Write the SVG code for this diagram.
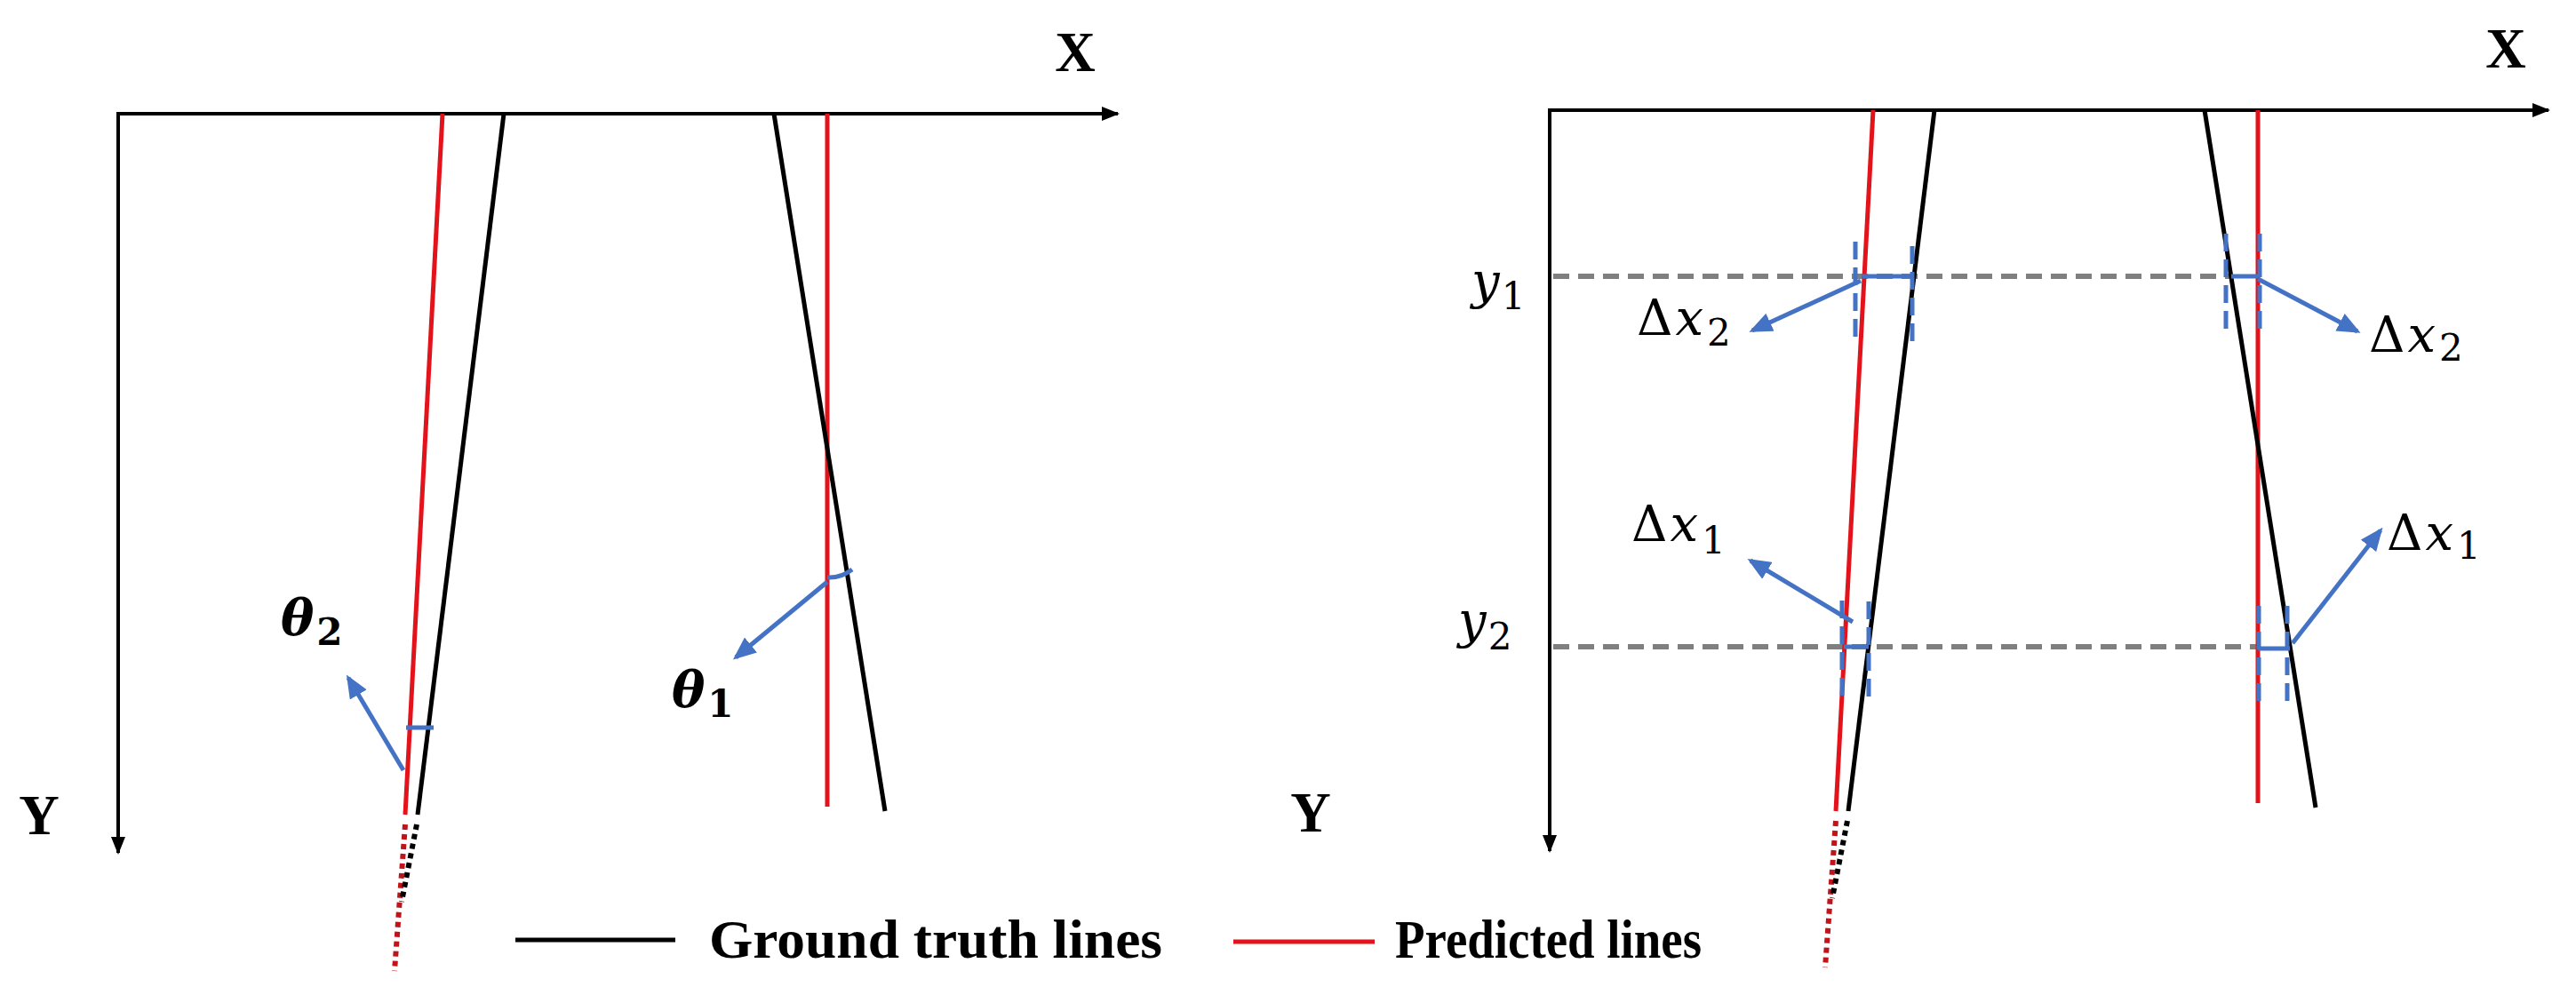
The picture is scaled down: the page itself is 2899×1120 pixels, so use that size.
<svg xmlns="http://www.w3.org/2000/svg" width="2899" height="1120" viewBox="0 0 2899 1120">
  <style>
    .axis { stroke:#000; stroke-width:4; fill:none; }
    .gt { stroke:#000; stroke-width:5; fill:none; }
    .pred { stroke:#e3131b; stroke-width:5; fill:none; }
    .gtdot { stroke:#000; stroke-width:6; fill:none; stroke-dasharray:6 5; }
    .preddot { stroke:#c0141b; stroke-width:6; fill:none; stroke-dasharray:6 5; }
    .blue { stroke:#4472c4; stroke-width:5; fill:none; }
    .bluedash { stroke:#4472c4; stroke-width:5; fill:none; stroke-dasharray:20 9; }
    .grey { stroke:#7f7f7f; stroke-width:6; fill:none; stroke-dasharray:18 10; }
    .lbl { font-family:"Liberation Serif", "Times New Roman", serif; font-weight:bold; fill:#000; }
    .math { font-family:"DejaVu Serif", "Liberation Serif", serif; fill:#000; font-size:56px; }
    .it { font-style:italic; }
    .sub { font-size:42px; font-style:normal; }
  </style>
  <defs>
    <marker id="axisArrow" markerUnits="userSpaceOnUse" markerWidth="20" markerHeight="16" refX="18" refY="8" orient="auto">
      <path d="M0,0 L20,8 L0,16 Z" fill="#000"/>
    </marker>
    <marker id="blueArrow" markerUnits="userSpaceOnUse" markerWidth="26" markerHeight="22" refX="22" refY="11" orient="auto">
      <path d="M0,0 L26,11 L0,22 Z" fill="#4472c4"/>
    </marker>
  </defs>
  <rect width="2899" height="1120" fill="#fff"/>

  <!-- LEFT PANEL -->
  <g id="left-axes">
    <line class="axis" x1="131" y1="128" x2="1258" y2="128" marker-end="url(#axisArrow)"/>
    <line class="axis" x1="133" y1="126" x2="133" y2="960" marker-end="url(#axisArrow)"/>
    <text class="lbl" x="1210" y="80" font-size="63" text-anchor="middle">X</text>
    <text class="lbl" x="44" y="939" font-size="63" text-anchor="middle">Y</text>
  </g>
  <g id="left-lines">
    <line class="pred" x1="498" y1="128" x2="456" y2="917"/>
    <line class="preddot" x1="456" y1="928" x2="444" y2="1093"/>
    <line class="gt" x1="567" y1="128" x2="470" y2="917"/>
    <line class="gtdot" x1="469" y1="928" x2="452" y2="1015"/>
    <line class="pred" x1="931" y1="128" x2="931" y2="908"/>
    <line class="gt" x1="871" y1="128" x2="996" y2="913"/>
  </g>
  <g id="theta2">
    <line class="blue" x1="457" y1="819" x2="488" y2="819"/>
    <text class="math" x="316" y="715" font-size="58"><tspan class="it" font-weight="bold">θ</tspan><tspan class="sub" dy="11" dx="3" font-weight="bold" font-size="44">2</tspan></text>
  </g>
  <g id="theta1">
    <path class="blue" d="M931,650 Q946,651 959,641"/>
    <text class="math" x="756" y="796" font-size="58"><tspan class="it" font-weight="bold">θ</tspan><tspan class="sub" dy="11" dx="3" font-weight="bold" font-size="44">1</tspan></text>
  </g>

  <!-- RIGHT PANEL -->
  <g id="right-axes">
    <line class="axis" x1="1742" y1="124" x2="2868" y2="124" marker-end="url(#axisArrow)"/>
    <line class="axis" x1="1744" y1="122" x2="1744" y2="958" marker-end="url(#axisArrow)"/>
    <text class="lbl" x="2820" y="76" font-size="63" text-anchor="middle">X</text>
    <text class="lbl" x="1475" y="936" font-size="63" text-anchor="middle">Y</text>
  </g>
  <g id="right-lines">
    <line class="grey" x1="1748" y1="311" x2="2510" y2="311"/>
    <line class="grey" x1="1748" y1="728" x2="2540" y2="728"/>
    <line class="pred" x1="2108" y1="124" x2="2066" y2="913"/>
    <line class="preddot" x1="2066" y1="924" x2="2054" y2="1089"/>
    <line class="gt" x1="2177" y1="124" x2="2080" y2="913"/>
    <line class="gtdot" x1="2079" y1="924" x2="2062" y2="1011"/>
    <line class="pred" x1="2541" y1="124" x2="2541" y2="904"/>
    <line class="gt" x1="2481" y1="124" x2="2606" y2="909"/>
  </g>
  <g id="y-labels">
    <text class="math" x="1656" y="336" font-size="60"><tspan class="it">y</tspan><tspan class="sub" dy="12" dx="2" font-size="44">1</tspan></text>
    <text class="math" x="1641" y="718" font-size="60"><tspan class="it">y</tspan><tspan class="sub" dy="13" dx="2" font-size="44">2</tspan></text>
  </g>
  <g id="dx2-left">
    <line class="bluedash" x1="2088" y1="272" x2="2088" y2="382"/>
    <line class="bluedash" x1="2152" y1="277" x2="2152" y2="387"/>
    <line class="blue" x1="2096" y1="311" x2="2154" y2="311"/>
    <text class="math" x="1842" y="377">Δ<tspan class="it" dx="3">x</tspan><tspan class="sub" dy="12" dx="4">2</tspan></text>
  </g>
  <g id="dx2-right">
    <line class="bluedash" x1="2505" y1="263" x2="2505" y2="373"/>
    <line class="bluedash" x1="2543" y1="263" x2="2543" y2="373"/>
    <line class="blue" x1="2511" y1="311" x2="2541" y2="311"/>
    <text class="math" x="2666" y="396">Δ<tspan class="it" dx="3">x</tspan><tspan class="sub" dy="10" dx="4">2</tspan></text>
  </g>
  <g id="dx1-left">
    <line class="bluedash" x1="2073" y1="676" x2="2073" y2="785"/>
    <line class="bluedash" x1="2103" y1="677" x2="2103" y2="785"/>
    <line class="blue" x1="2075" y1="728" x2="2103" y2="728"/>
    <text class="math" x="1836" y="609">Δ<tspan class="it" dx="3">x</tspan><tspan class="sub" dy="14" dx="4">1</tspan></text>
  </g>
  <g id="dx1-right">
    <line class="bluedash" x1="2542" y1="682" x2="2542" y2="790"/>
    <line class="bluedash" x1="2574" y1="682" x2="2574" y2="790"/>
    <line class="blue" x1="2541" y1="730" x2="2577" y2="730"/>
    <text class="math" x="2686" y="619">Δ<tspan class="it" dx="3">x</tspan><tspan class="sub" dy="10" dx="4">1</tspan></text>
  </g>

  <!-- CONNECTORS (annotation arrows) -->
  <g id="connectors">
    <line class="blue" x1="454" y1="867" x2="392" y2="763" marker-end="url(#blueArrow)"/>
    <line class="blue" x1="931" y1="655" x2="828" y2="740" marker-end="url(#blueArrow)"/>
    <line class="blue" x1="2094" y1="316" x2="1972" y2="372" marker-end="url(#blueArrow)"/>
    <line class="blue" x1="2541" y1="314" x2="2653" y2="373" marker-end="url(#blueArrow)"/>
    <line class="blue" x1="2085" y1="700" x2="1970" y2="631" marker-end="url(#blueArrow)"/>
    <line class="blue" x1="2580" y1="724" x2="2679" y2="597" marker-end="url(#blueArrow)"/>
  </g>

  <!-- LEGEND -->
  <g id="legend">
    <line class="gt" x1="580" y1="1058" x2="760" y2="1058" stroke-width="6"/>
    <text class="lbl" x="798" y="1078" font-size="61" textLength="510" lengthAdjust="spacingAndGlyphs">Ground truth lines</text>
    <line class="pred" x1="1388" y1="1060" x2="1547" y2="1060" stroke-width="6"/>
    <text class="lbl" x="1570" y="1078" font-size="61" textLength="345" lengthAdjust="spacingAndGlyphs">Predicted lines</text>
  </g>
</svg>
